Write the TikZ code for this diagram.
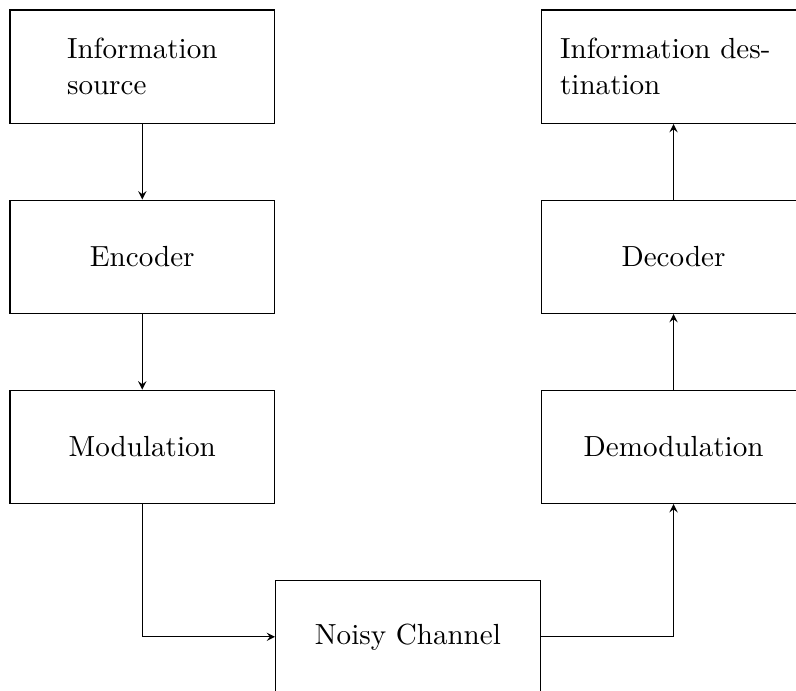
\documentclass[tikz,border=0pt,11pt]{standalone}
\usepackage{tikz}
\usetikzlibrary{arrows, positioning}

\tikzset{
  block/.style={draw, rectangle, minimum width=3.5cm, minimum height=1.5cm, align=center},
  link/.style={-stealth}
}

\begin{document}
\begin{tikzpicture}[node distance=1cm]
\path[use as bounding box, clip] (-1.882,-8.252) rectangle (8.648,0.882);

% Transmitter side
\node[block, align=left] (source) at (0,0) {Information\\source};
\node[block, below=of source] (encoder) {Encoder};
\node[block, below=of encoder] (modulation) {Modulation};

% Channel
\node[block, below right=1cm and 0cm of modulation] (channel) {Noisy Channel};

% Receiver side
\node[block, above right=1cm and 0cm of channel] (demodulation) {Demodulation};
\node[block, above=of demodulation] (decoder) {Decoder};
\node[block, above=of decoder, text width=3cm, align=left] (destination) {Information des-\\tination};

\draw[link] (source) -- (encoder);
\draw[link] (encoder) -- (modulation);
\draw[link] (modulation.south) |- (channel.west);
\draw[link] (channel.east) -| (demodulation.south);
\draw[link] (demodulation) -- (decoder);
\draw[link] (decoder) -- (destination);
\end{tikzpicture}
\end{document}
